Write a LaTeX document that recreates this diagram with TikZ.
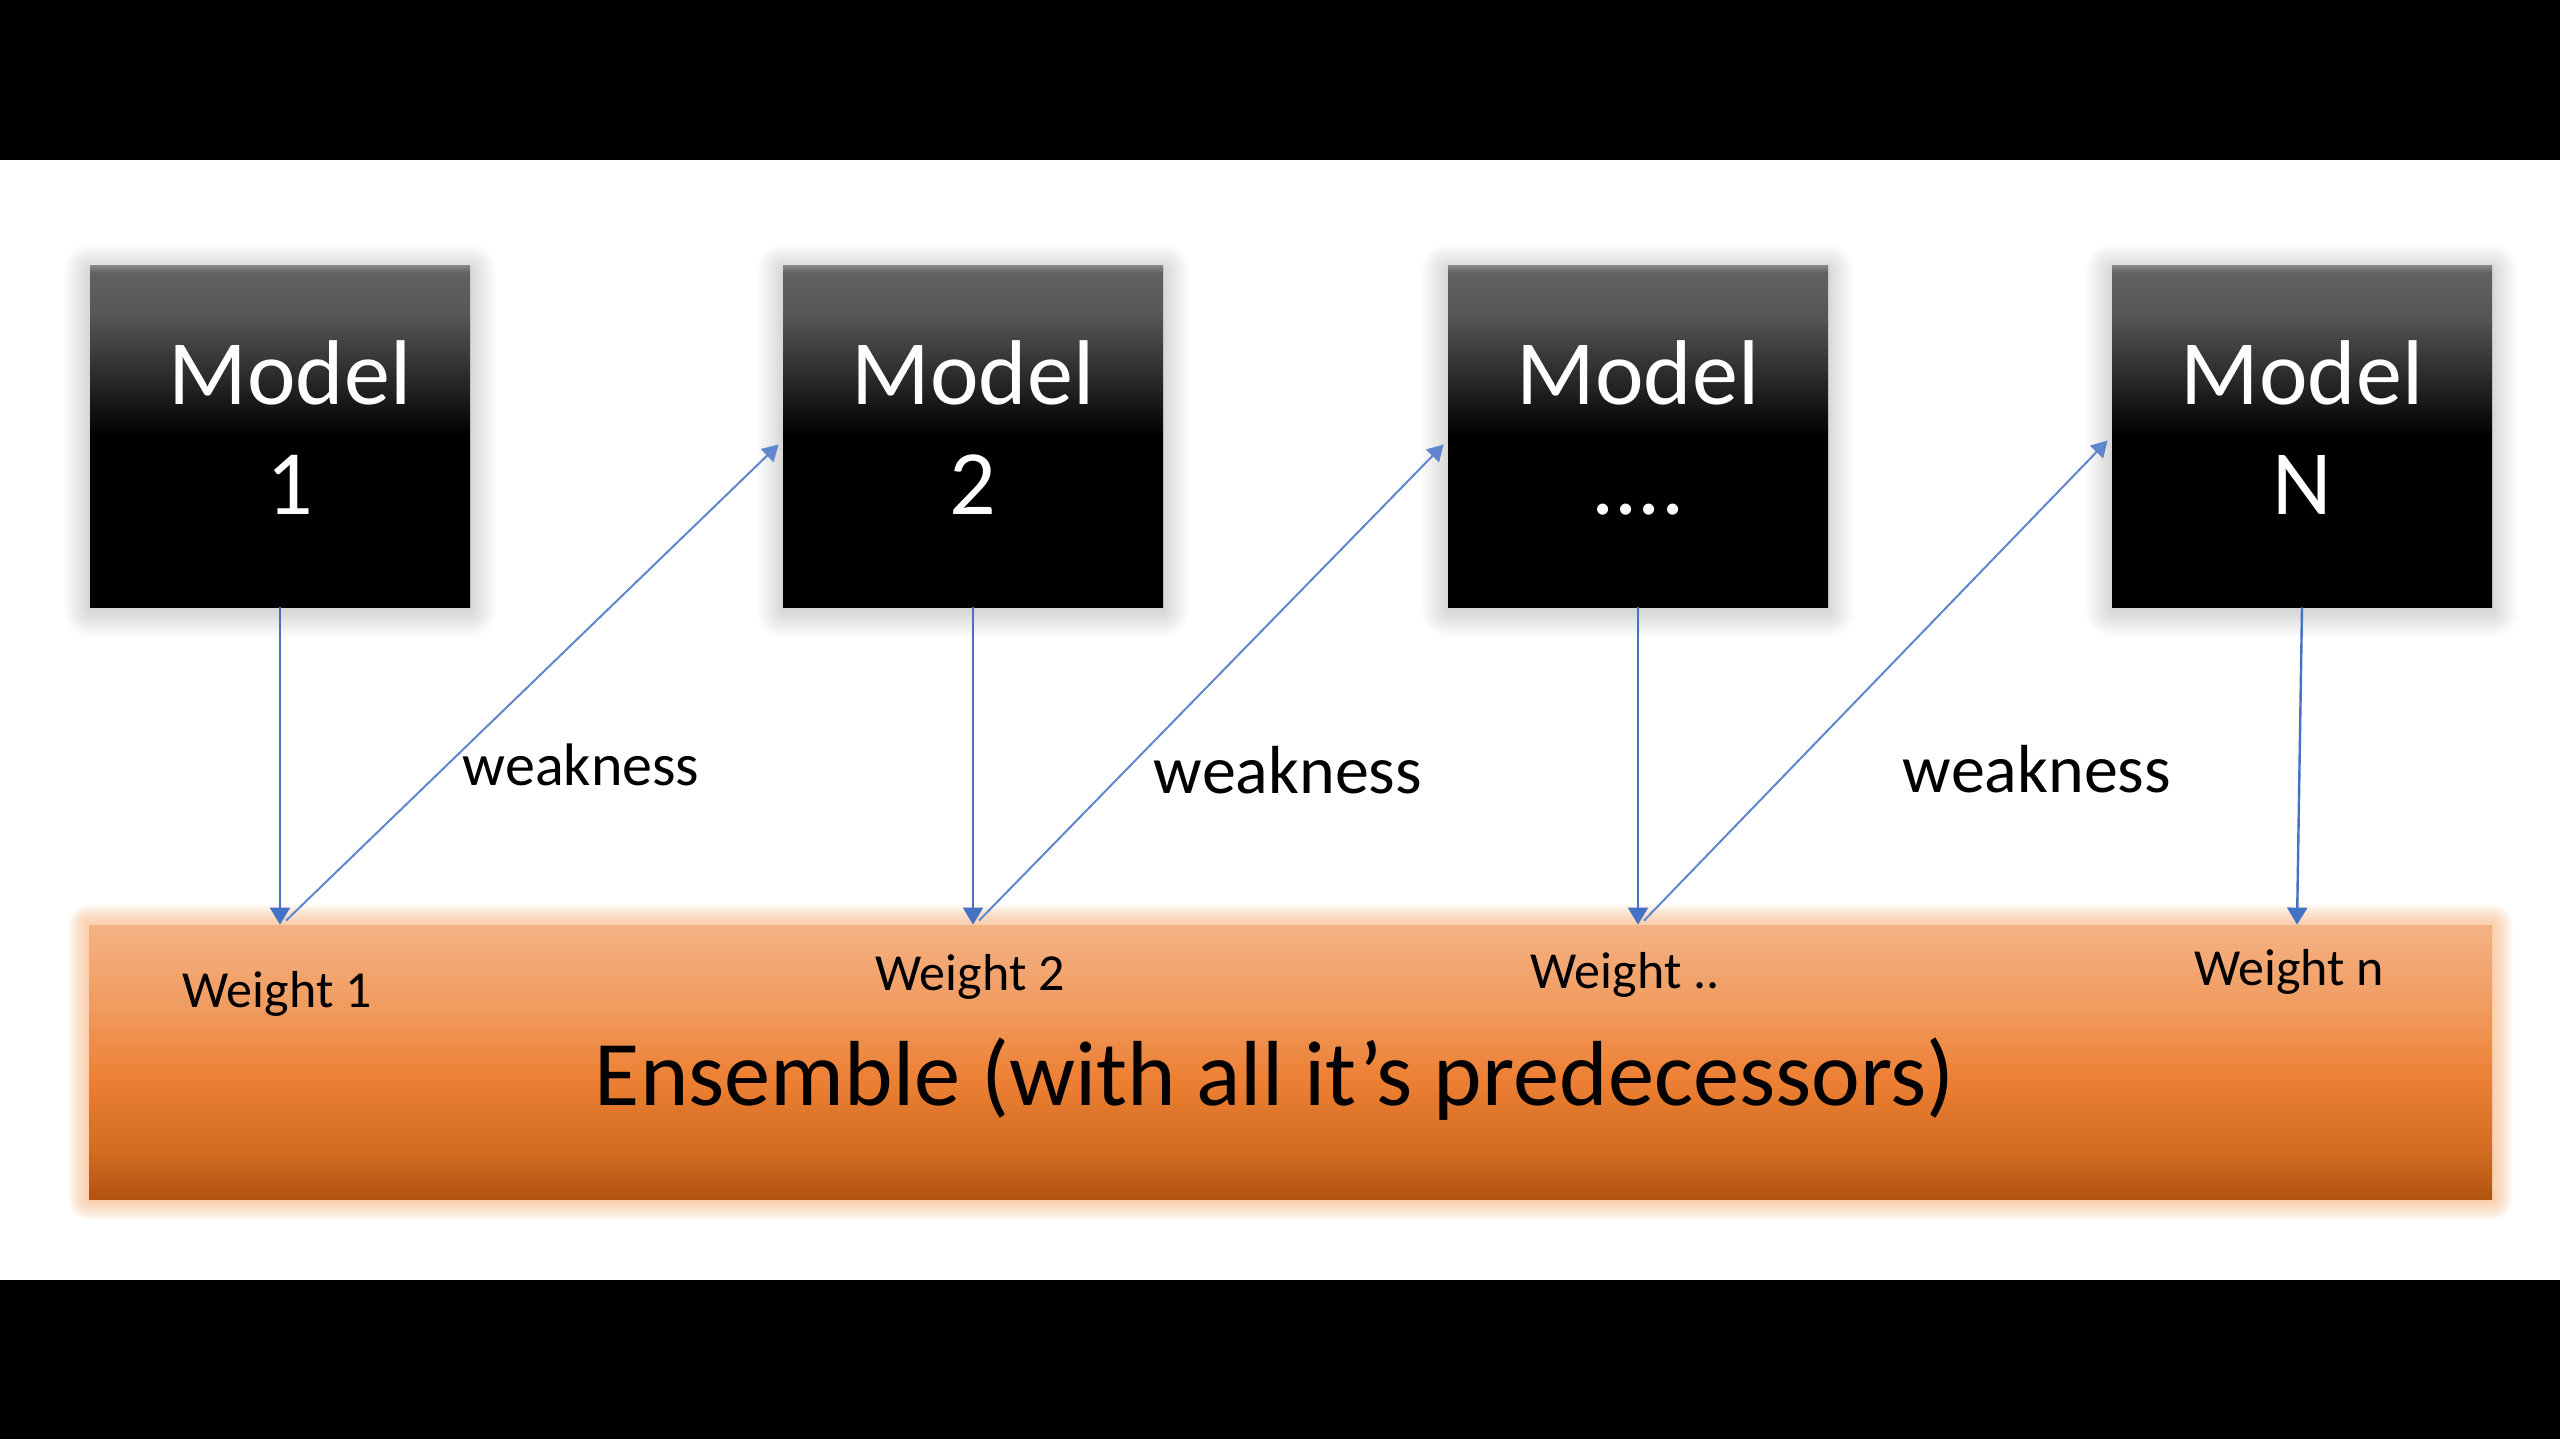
\documentclass[tikz,border=0pt]{standalone}
\usepackage{fontspec}
\setmainfont{Carlito}
\usetikzlibrary{arrows.meta,calc}
\definecolor{arrblue}{RGB}{68,114,196}
\definecolor{ensTop}{RGB}{244,178,132}
\definecolor{ensUp}{RGB}{240,155,95}
\definecolor{ensMid}{RGB}{237,128,52}
\definecolor{ensLow}{RGB}{208,106,32}
\definecolor{ensBot}{RGB}{178,82,18}
\definecolor{glowor}{RGB}{250,190,140}
\pgfdeclareverticalshading{modelsh}{100bp}{color(0bp)=(black); color(25bp)=(black); color(50bp)=(black); color(68bp)=(black!66); color(74bp)=(black!62); color(75bp)=(black!48); color(100bp)=(black!48)}
\pgfdeclareverticalshading{enssh}{100bp}{color(0bp)=(ensBot); color(25bp)=(ensBot); color(33bp)=(ensLow); color(47bp)=(ensMid); color(60bp)=(ensUp); color(75bp)=(ensTop); color(100bp)=(ensTop)}
\tikzset{
  modelbox/.style={shading=modelsh, draw=none, inner sep=0pt,
    minimum width=190pt, minimum height=170.5pt, text=white,
    font=\fontsize{46}{55}\selectfont, align=center, text depth=9pt},
  ensbox/.style={shading=enssh, draw=none, inner sep=0pt,
    minimum width=1201.5pt, minimum height=137pt},
  arr/.style={draw=arrblue, line width=1.2pt, -{Triangle[width=10pt,length=8.5pt]}},
  diag/.style={draw=arrblue!85, line width=1pt, -{Triangle[width=9pt,length=8pt]}},
  weaktext/.style={anchor=base, inner sep=0pt, font=\fontsize{34}{40}\selectfont},
  weighttext/.style={anchor=base, inner sep=0pt, font=\fontsize{26}{30}\selectfont},
  enstext/.style={anchor=base, inner sep=0pt, font=\fontsize{46.2}{52}\selectfont}
}
\begin{document}
\begin{tikzpicture}[x=0.5pt,y=-0.5pt]
\useasboundingbox (0,0) rectangle (2560,1439);
\fill[white] (0,0) rectangle (2560,1439);
\fill[black] (0,0) rectangle (2560,160);
\fill[black] (0,1280) rectangle (2560,1439);
% gray glows behind model boxes
\foreach \cx in {280,973,1638,2302}{
  \foreach \r in {2,4,...,26}{
    \fill[black, opacity=0.011, rounded corners=\r*0.5pt]
      (\cx-190-\r, 266-\r+4) rectangle (\cx+190+\r, 607+\r+4);
  }
}
% orange glow behind ensemble
\foreach \r in {2,4,...,20}{
  \fill[glowor, opacity=0.10, rounded corners=\r*0.5pt]
    (89-\r, 925-\r) rectangle (2492+\r, 1199+\r);
}
% model boxes
\node[modelbox] (m1) at (280,436.5) {\hspace*{10pt}Model\\\hspace*{10pt}1};
\node[modelbox] (m2) at (973,436.5) {Model\\2};
\node[modelbox] (m3) at (1638,436.5) {Model\\....};
\node[modelbox] (mN) at (2302,436.5) {Model\\N};
% ensemble
\node[ensbox] (ens) at (1290.5,1062) {};
\node[enstext] (enstxt) at (1275,1105) {Ensemble (with all it’s predecessors)};
% weights
\node[weighttext] (w1) at (277,1007) {Weight 1};
\node[weighttext] (w2) at (970,990) {Weight 2};
\node[weighttext] (w3) at (1625,988) {Weight ..};
\node[weighttext] (wN) at (2289,985) {Weight n};
% weakness labels
\node[weaktext, font=\fontsize{30}{36}\selectfont] (k1) at (581,785) {weakness};
\node[weaktext] (k2) at (1288,793) {weakness};
\node[weaktext] (k3) at (2037,792) {weakness};
% vertical arrows
\draw[arr] (m1.south) -- (m1.south |- ens.north);
\draw[arr] (m2.south) -- (m2.south |- ens.north);
\draw[arr] (m3.south) -- (m3.south |- ens.north);
\draw[arr] (mN.south) -- ($(mN.south |- ens.north)+(-5,0)$);
% diagonal weakness arrows
\coordinate (d1) at ($(m1.south |- ens.north)+(6,-4)$);
\coordinate (d2) at ($(m2.south |- ens.north)+(6,-4)$);
\coordinate (d3) at ($(m3.south |- ens.north)+(6,-4)$);
\draw[diag] (d1) -- ($(m2.west)+(-4,8)$);
\draw[diag] (d2) -- ($(m3.west)+(-4,8)$);
\draw[diag] (d3) -- ($(mN.west)+(-4,4)$);
\end{tikzpicture}
\end{document}
